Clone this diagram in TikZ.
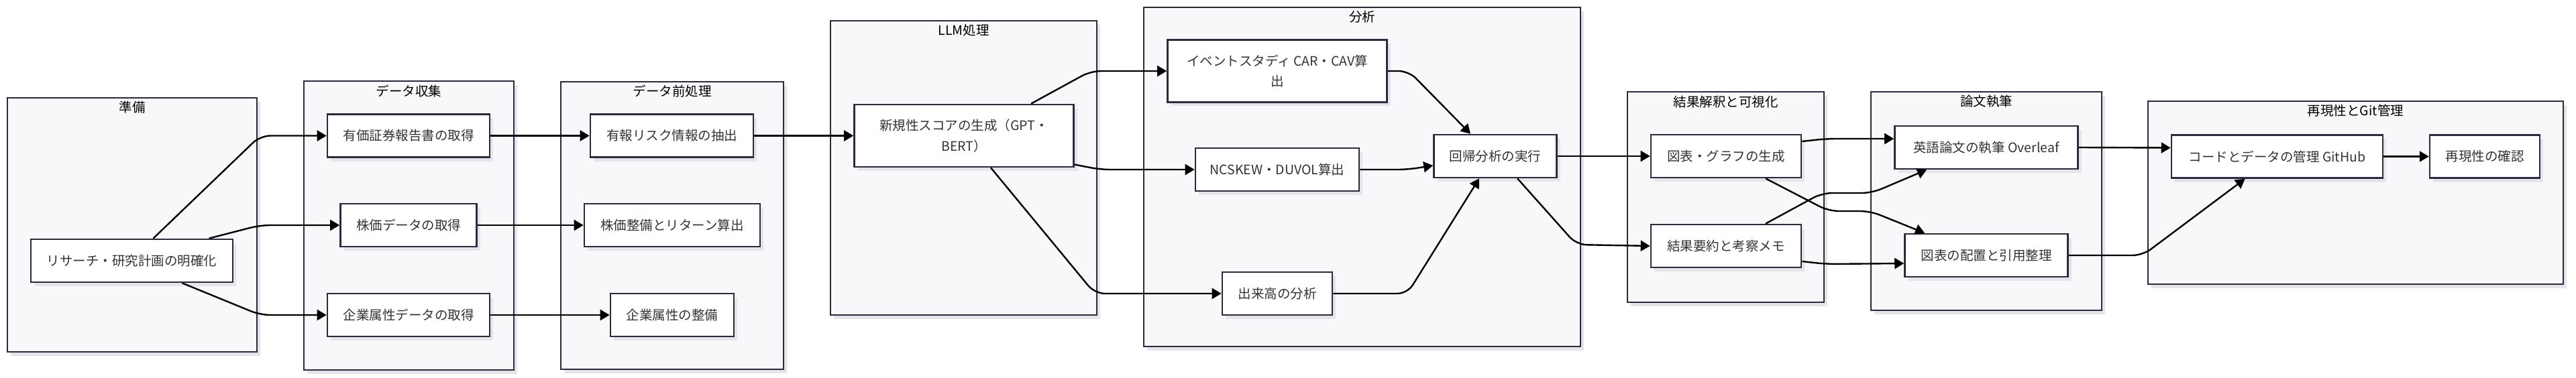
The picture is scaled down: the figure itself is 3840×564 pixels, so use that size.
\documentclass[tikz,border=0pt]{standalone}
\usepackage{fontspec}
\setmainfont{Noto Sans CJK JP}
\usetikzlibrary{arrows.meta,shadows}
\definecolor{bordc}{HTML}{2B2B40}
\definecolor{clfill}{HTML}{F8F8FA}
\definecolor{shad}{HTML}{E4E4EA}
\definecolor{txt}{HTML}{333333}
\begin{document}
\begin{tikzpicture}[x=1pt,y=-1pt,
  cluster/.style={draw=bordc, line width=2pt, fill=clfill, inner sep=0pt, outer sep=0pt,
    drop shadow={shadow xshift=5pt,shadow yshift=-6pt,fill=shad,opacity=1}},
  ctitle/.style={text=black, font=\fontsize{19.5}{24}\selectfont, inner sep=0pt},
  box/.style={draw=bordc, line width=2.6pt, fill=white, text=txt,
    font=\fontsize{19.5}{30.5}\selectfont, minimum height=64pt, inner sep=0pt, align=center,
    drop shadow={shadow xshift=5pt,shadow yshift=-6pt,fill=shad,opacity=1}},
  edge/.style={draw=black, line width=2.4pt, rounded corners=15pt, -{Triangle[length=14pt,width=16pt]}}
]
\fill[white] (0,0) rectangle (3840,564);
% clusters
\node[cluster, minimum width=372pt, minimum height=379pt] (c1) at (197,335.5) {};
\node[cluster, minimum width=313pt, minimum height=431pt] (c2) at (609.5,336.5) {};
\node[cluster, minimum width=332pt, minimum height=429pt] (c3) at (1002,336.5) {};
\node[cluster, minimum width=397pt, minimum height=439pt] (c4) at (1436.5,250.5) {};
\node[cluster, minimum width=651pt, minimum height=506pt] (c5) at (2030.5,264) {};
\node[cluster, minimum width=293pt, minimum height=314pt] (c6) at (2572.5,294) {};
\node[cluster, minimum width=344pt, minimum height=326pt] (c7) at (2961,300) {};
\node[cluster, minimum width=619pt, minimum height=273pt] (c8) at (3511.5,287.5) {};
% titles
\node[ctitle] (t1) at (197,160) {準備};
\node[ctitle] (t2) at (609.5,136) {データ収集};
\node[ctitle] (t3) at (1002,136) {データ前処理};
\node[ctitle] (t4) at (1436.5,45) {LLM処理};
\node[ctitle] (t5) at (2030.5,25) {分析};
\node[ctitle] (t6) at (2572.5,152) {結果解釈と可視化};
\node[ctitle] (t7) at (2961,151) {論文執筆};
\node[ctitle] (t8) at (3511.5,165) {再現性とGit管理};
% nodes
\node[box, minimum width=301pt] (n1) at (196.5,389) {リサーチ・研究計画の明確化};
\node[box, minimum width=242pt] (n2) at (609,202.5) {有価証券報告書の取得};
\node[box, minimum width=203pt] (n3) at (609,336) {株価データの取得};
\node[box, minimum width=242pt] (n4) at (609,470) {企業属性データの取得};
\node[box, minimum width=243pt] (n5) at (1001.5,202.5) {有報リスク情報の抽出};
\node[box, minimum width=262pt] (n6) at (1002,336) {株価整備とリターン算出};
\node[box, minimum width=184pt] (n7) at (1002,470) {企業属性の整備};
\node[box, minimum width=327pt, minimum height=93pt] (n8) at (1437,202.5) {新規性スコアの生成（GPT・\\BERT）};
\node[box, minimum width=327pt, minimum height=93pt] (n9) at (1904,106) {イベントスタディ CAR・CAV算\\出};
\node[box, minimum width=244pt] (n10) at (1904,253) {NCSKEW・DUVOL算出};
\node[box, minimum width=164pt] (n11) at (1904,438) {出来高の分析};
\node[box, minimum width=183pt] (n12) at (2229,233) {回帰分析の実行};
\node[box, minimum width=224pt] (n13) at (2573,233) {図表・グラフの生成};
\node[box, minimum width=224pt] (n14) at (2573,367) {結果要約と考察メモ};
\node[box, minimum width=273pt] (n15) at (2961,220) {英語論文の執筆 Overleaf};
\node[box, minimum width=243pt] (n16) at (2961,381) {図表の配置と引用整理};
\node[box, minimum width=315pt] (n17) at (3394.5,233.5) {コードとデータの管理 GitHub};
\node[box, minimum width=164pt] (n18) at (3704,233.5) {再現性の確認};
% edges
\draw[edge] ([xshift=32pt]n1.north) -- (388,202.5) -- (n2.west);
\draw[edge] ([xshift=115pt]n1.north) -- (388,336) -- (n3.west);
\draw[edge] ([xshift=75pt]n1.south) -- (388,470) -- (n4.west);
\draw[edge] (n2.east) -- (n5.west);
\draw[edge] (n3.east) -- (n6.west);
\draw[edge] (n4.east) -- (n7.west);
\draw[edge] (n5.east) -- (n8.west);
\draw[edge] ([xshift=100pt]n8.north) -- (1626,106) -- (n9.west);
\draw[edge] ([yshift=-43pt]n8.east) -- (1640,253) -- (n10.west);
\draw[edge] ([xshift=40pt]n8.south) -- (1632,438) -- (n11.west);
\draw[edge] (n9.east) -- (2100,106) -- ([xshift=-37pt]n12.north);
\draw[edge] (n10.east) -- (2098,253) -- ([yshift=-14pt]n12.west);
\draw[edge] (n11.east) -- (2098,438) -- ([xshift=-24pt]n12.south);
\draw[edge] (n12.east) -- (n13.west);
\draw[edge] ([xshift=33pt]n12.south) -- (2350,365) -- (n14.west);
\draw[edge] ([yshift=22pt]n13.east) -- (2722,207) -- ([yshift=13pt]n15.west);
\draw[edge] ([xshift=59pt]n13.south) -- (2726,315) -- (2788,315) -- ([xshift=-92pt]n16.north);
\draw[edge] ([xshift=59pt]n14.north) -- (2716,288) -- (2790,288) -- ([xshift=-89pt]n15.south);
\draw[edge] ([yshift=-23pt]n14.east) -- (2722,394) -- ([yshift=-12pt]n16.west);
\draw[edge] (n15.east) -- ([yshift=13pt]n17.west);
\draw[edge] (n16.east) -- (3194,381) -- ([xshift=-48pt]n17.south);
\draw[edge] (n17.east) -- (n18.west);
\end{tikzpicture}
\end{document}
